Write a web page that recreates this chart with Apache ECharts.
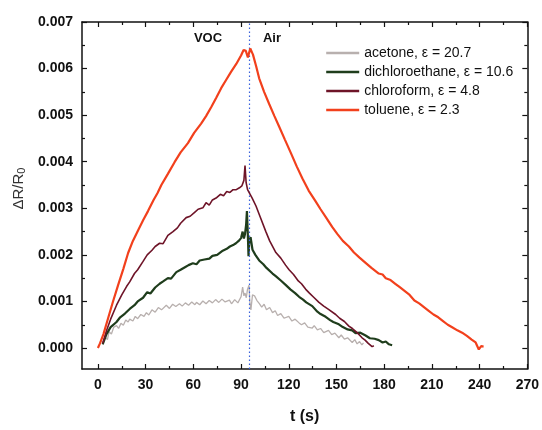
<!DOCTYPE html>
<html><head><meta charset="utf-8">
<script src="https://cdn.jsdelivr.net/npm/echarts@6/dist/echarts.min.js"></script>
<style>html,body{margin:0;padding:0;background:#fff}#c{width:542px;height:430px}</style>
</head><body><div id="c"></div>
<script>
// ---- data (t in s, value = ΔR/R0) ----
const seriesNames = ['acetone, ε = 20.7', 'dichloroethane, ε = 10.6', 'chloroform, ε = 4.8', 'toluene, ε = 2.3'];
const xMajor = [0, 30, 60, 90, 120, 150, 180, 210, 240, 270];
const xMinor = [15, 45, 75, 105, 135, 165, 195, 225, 255];
const yMajor = [0, 0.001, 0.002, 0.003, 0.004, 0.005, 0.006, 0.007];
const yMinor = [0.0005, 0.0015, 0.0025, 0.0035, 0.0045, 0.0055, 0.0065];
const switchTime = 95;

const acetoneT = [4.4,6,7,8.5,10,11.7,13,14.5,16,17.5,19,20,22,23.5,25,27,29,30.5,32,34,36,38,40,41,43,45,47,49,51.3,53,55,57,59,61,62,64,66,68,70,72,74,76,78,80,82.7,84,86,88,89,90,91,91.8,92.5,93.3,94,95,95.5,96.2,97.2,98.5,100,101.4,103,104.5,106,108,109.8,111.5,113,115,117,118.2,120,122,124,126.5,128,130,132,134.8,136,138,140,142,143.2,145,147,149,151.5,153,155,157,159.9,161.5,163,164.5,166,167];
const acetoneV = [0.00024,0.00018,0.00035,0.0003,0.00045,0.00048,0.00042,0.00053,0.00049,0.0006,0.00056,0.00062,0.00058,0.00068,0.00063,0.00072,0.00068,0.00076,0.00071,0.00082,0.00077,0.00087,0.00082,0.00086,0.00092,0.00085,0.00094,0.00089,0.00095,0.0009,0.00097,0.00092,0.00099,0.00093,0.00098,0.00093,0.00101,0.00095,0.00102,0.00097,0.00104,0.00098,0.00105,0.00099,0.00103,0.00095,0.00104,0.00097,0.00099,0.0011,0.00131,0.00112,0.00118,0.00108,0.00125,0.00135,0.001,0.00082,0.00114,0.00112,0.00102,0.00096,0.00088,0.00094,0.00082,0.00087,0.00076,0.0008,0.0007,0.00074,0.00064,0.00064,0.00068,0.00058,0.00062,0.00054,0.0005,0.00054,0.00045,0.00043,0.00048,0.00039,0.00042,0.00033,0.00033,0.00038,0.00029,0.00032,0.00022,0.00028,0.00019,0.00022,0.00012,0.00018,0.00009,0.00014,0.00007,0.00011];

const dceT = [3,5.4,8,11.7,14,17,20,23,25,28.4,31,33,36,38.8,41,44,46,49.3,52,55,57,59.7,62,64,67,70.1,72,75,78.5,81,83,85,86.8,88.5,90,91,91.8,92.5,93.2,93.7,94.2,94.7,95.2,96,97.2,99,101.4,104,106,109.8,112,115,118.2,121,124,126.5,129,131,134.8,138,140,143.2,146,148,151.5,154,157,159.9,162,165,168.3,171,174,176.6,179,181,183,185];
const dceV = [0.00008,0.0003,0.00045,0.00056,0.00066,0.00074,0.00084,0.00092,0.001,0.00108,0.0012,0.00117,0.0013,0.00138,0.00143,0.0015,0.00149,0.00163,0.00168,0.00174,0.00178,0.00182,0.0018,0.00188,0.0019,0.00192,0.00198,0.002,0.00209,0.00213,0.00218,0.00221,0.00225,0.0023,0.00236,0.0025,0.00235,0.00245,0.00265,0.00294,0.0025,0.00197,0.0023,0.00238,0.00211,0.002,0.00188,0.0018,0.00172,0.0016,0.00154,0.00145,0.00135,0.00126,0.00118,0.0011,0.00104,0.00098,0.0009,0.00078,0.00073,0.00067,0.0006,0.00056,0.00051,0.00045,0.0004,0.00038,0.00032,0.00033,0.00027,0.00021,0.0002,0.00017,0.00012,0.00014,0.00008,0.00006];

const chlT = [3,5.4,8,11.7,15,18,20,23,25,28.4,31,34,36,38.8,41,44,47.2,50,52,55.5,58,61,63,66,68,70,72,74.3,77,79,81,83,85,87,89,90.5,91.8,92.5,93.2,94.1,95.2,97,99.4,102,105.6,108,111.9,115,118,120.2,123,126,128,130.7,133,136,139,142,145,149.5,152,155,157.8,160,163,166.1,168,170,172.4,173.5];
const chlV = [0.0001,0.00037,0.00062,0.00092,0.00114,0.00132,0.00142,0.0016,0.00168,0.00186,0.002,0.0021,0.00218,0.00225,0.00224,0.00242,0.0025,0.00258,0.00268,0.0028,0.00283,0.00292,0.00298,0.00301,0.00312,0.00307,0.00318,0.00322,0.0033,0.00327,0.00336,0.00334,0.0034,0.0034,0.00344,0.00348,0.0036,0.00392,0.00355,0.0034,0.00336,0.00322,0.00305,0.00282,0.0025,0.0023,0.00205,0.00193,0.00178,0.00168,0.00158,0.00144,0.00138,0.00126,0.00118,0.00108,0.00098,0.0009,0.00083,0.00072,0.00064,0.00057,0.00047,0.00042,0.00033,0.00022,0.00017,0.0001,0.00003,0.00005];

const tolT = [0,1.3,3.5,6.5,9.5,12.7,16,19,22,25.3,28.5,31.5,35,37.5,39.9,44,48.2,52,56.6,60.5,64.9,68,71.2,74.5,77.5,80.5,83.7,87,90,91.6,93,94.3,95.8,97.5,99.5,101.4,104.5,107.7,111,114,117.5,121.3,125,128.6,132.5,136.9,140,143.5,147.3,150.5,154,157.8,161,164.5,168.3,172,176.6,179,181,184,187,190,193,196,199,202,205,208,211,214,217,220,223,226,229,232,235,237.5,239.5,241,242.5];
const tolV = [0,0.0001,0.0003,0.00065,0.001,0.00135,0.0017,0.00204,0.0023,0.00253,0.00275,0.00294,0.00318,0.00333,0.0035,0.00374,0.00399,0.0042,0.0044,0.00462,0.00482,0.00498,0.00517,0.00538,0.00558,0.00575,0.00593,0.0061,0.00628,0.0064,0.00638,0.00624,0.00643,0.0063,0.00605,0.00579,0.0055,0.00524,0.00498,0.00475,0.00448,0.00419,0.0039,0.00364,0.00338,0.00315,0.00298,0.0028,0.0026,0.00245,0.0023,0.00218,0.00205,0.00194,0.00183,0.00172,0.0016,0.00158,0.0015,0.00146,0.00138,0.0013,0.00122,0.00114,0.00102,0.00096,0.00088,0.0008,0.00072,0.00066,0.00058,0.0005,0.00044,0.00038,0.00033,0.00026,0.00018,0.00012,-0.00003,0.00004,0.00003];

const seriesT = [acetoneT, dceT, chlT, tolT];
const seriesV = [acetoneV, dceV, chlV, tolV];
const colors = ['#b8b0ae', '#1f3d1c', '#6e1428', '#f2401c'];
const widths = [1.3, 2.2, 1.6, 2.2];

const pair = (ts, vs) => ts.map((t, i) => [t, vs[i]]);
const axisColor = '#111';
const FF = 'Liberation Sans, Arial, sans-serif';
const lbl = { fontFamily: FF, fontWeight: 'bold', fontSize: 14, color: '#111' };

function xAx(pos, vals, len, main) {
  return {
    type: 'value', min: -10, max: 270, position: pos,
    axisLine: { show: main, onZero: false, lineStyle: { color: axisColor, width: 1.5 } },
    axisTick: { show: true, inside: true, length: len, customValues: vals, lineStyle: { color: axisColor, width: 1.2 } },
    axisLabel: (main && pos === 'bottom') ? Object.assign({ customValues: xMajor, margin: 9 }, lbl) : { show: false },
    splitLine: { show: false },
    name: (main && pos === 'bottom') ? 't (s)' : '',
    nameLocation: 'middle', nameGap: 40,
    nameTextStyle: { fontFamily: FF, fontWeight: 'bold', fontSize: 16, color: '#111' }
  };
}
function yAx(pos, vals, len, main) {
  return {
    type: 'value', min: -0.00045, max: 0.007, position: pos,
    axisLine: { show: main, onZero: false, lineStyle: { color: axisColor, width: 1.5 } },
    axisTick: { show: true, inside: true, length: len, customValues: vals, lineStyle: { color: axisColor, width: 1.2 } },
    axisLabel: (main && pos === 'left') ? Object.assign({ customValues: yMajor, margin: 9, formatter: v => v.toFixed(3) }, lbl) : { show: false },
    splitLine: { show: false },
    name: (main && pos === 'left') ? '{a|ΔR/R}{s|0}' : '',
    nameLocation: 'middle', nameGap: 52, nameRotate: 90,
    nameTextStyle: { padding: [0, 0, 0, 14], rich: {
      a: { fontFamily: FF, fontSize: 15, color: '#333' },
      s: { fontFamily: FF, fontSize: 11, color: '#333', verticalAlign: 'bottom', padding: [6, 0, 0, 0] }
    } }
  };
}

const series = seriesNames.map((n, i) => ({
  name: n, type: 'line', xAxisIndex: 0, yAxisIndex: 0,
  data: pair(seriesT[i], seriesV[i]),
  symbol: 'none', smooth: false, z: 3 + i,
  lineStyle: { color: colors[i], width: widths[i] },
  itemStyle: { color: colors[i] }
}));
series[3].markLine = {
  silent: true, symbol: 'none', label: { show: false },
  lineStyle: { type: [1.5, 2.5], color: '#3a62dc', width: 1.2 },
  data: [{ xAxis: switchTime }]
};

const chart = echarts.init(document.getElementById('c'), null, { renderer: 'canvas' });
chart.setOption({
  backgroundColor: '#fff',
  animation: false,
  grid: { left: 82, right: 12, top: 22, bottom: 51, containLabel: false },
  xAxis: [xAx('bottom', xMajor, 5, true), xAx('bottom', xMinor, 3, false), xAx('top', xMajor, 5, true), xAx('top', xMinor, 3, false)],
  yAxis: [yAx('left', yMajor, 5, true), yAx('left', yMinor, 3, false), yAx('right', yMajor, 5, true), yAx('right', yMinor, 3, false)],
  legend: {
    orient: 'vertical', left: 325, top: 46, padding: 0, itemWidth: 33, itemHeight: 14, itemGap: 5,
    itemStyle: { opacity: 0 },
    lineStyle: { width: 2.4 },
    textStyle: { fontFamily: FF, fontSize: 14, color: '#111' },
    data: seriesNames
  },
  graphic: [
    { type: 'text', x: 208, y: 38, style: { text: 'VOC', x: 0, y: 0, textAlign: 'center', textVerticalAlign: 'middle', font: 'bold 13px Liberation Sans, Arial, sans-serif', fill: '#111' } },
    { type: 'text', x: 272, y: 38, style: { text: 'Air', x: 0, y: 0, textAlign: 'center', textVerticalAlign: 'middle', font: 'bold 13px Liberation Sans, Arial, sans-serif', fill: '#111' } }
  ],
  series: series
});
</script>
</body></html>
